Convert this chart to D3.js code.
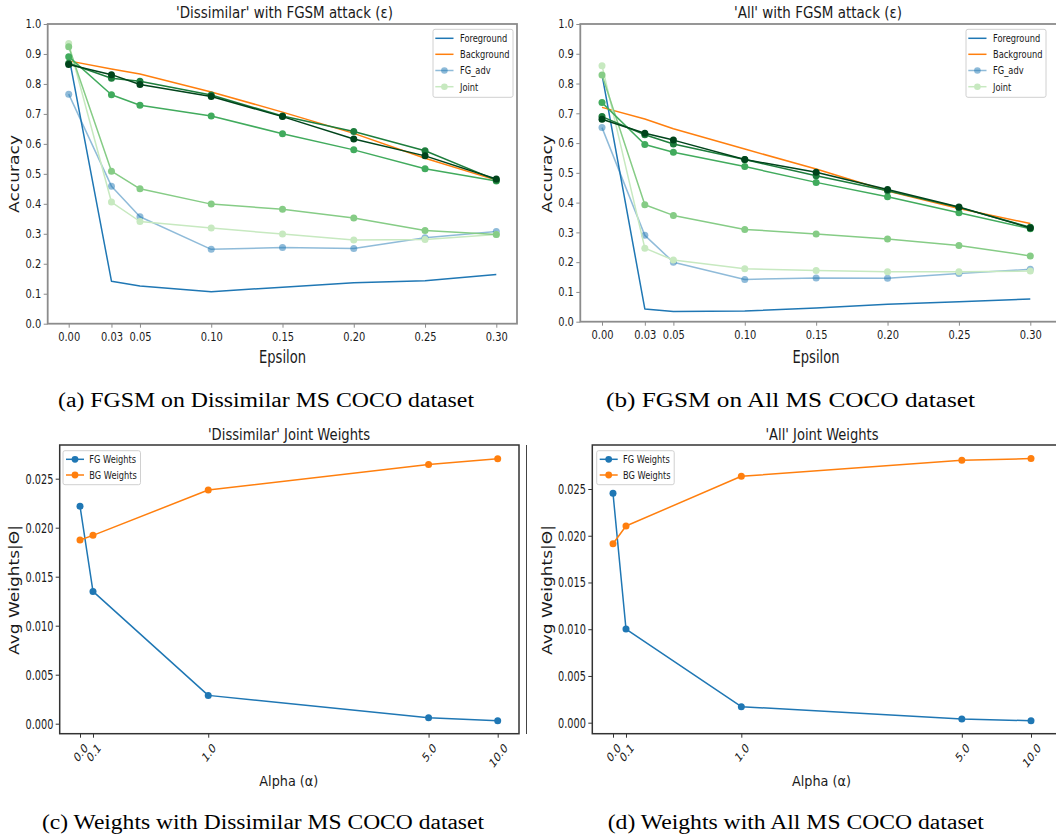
<!DOCTYPE html>
<html><head><meta charset="utf-8">
<script src="https://cdn.jsdelivr.net/npm/d3@7"></script>
<style>body{margin:0;background:#fff}svg{display:block}</style>
</head><body><svg id="c" width="1056" height="839"></svg>
<script>
// ---------- data ----------
const epsilons = [0, 0.03, 0.05, 0.10, 0.15, 0.20, 0.25, 0.30];
const epsTicks = ["0.00","0.03","0.05","0.10","0.15","0.20","0.25","0.30"];
const accTicks = [0,0.1,0.2,0.3,0.4,0.5,0.6,0.7,0.8,0.9,1.0];
const legendNames = ["Foreground","Background","FG_adv","Joint"];

// 'Dissimilar' FGSM
const dis_foreground = [0.895, 0.142, 0.126, 0.107, 0.122, 0.137, 0.143, 0.164];
const dis_background = [0.877, 0.850, 0.833, 0.773, 0.706, 0.635, 0.552, 0.479];
const dis_fgadv      = [0.766, 0.459, 0.357, 0.248, 0.254, 0.251, 0.287, 0.308];
const dis_joint      = [0.935, 0.406, 0.341, 0.319, 0.299, 0.279, 0.281, 0.298];
const dis_joint2     = [0.924, 0.509, 0.450, 0.399, 0.382, 0.353, 0.311, 0.298];
const dis_joint3     = [0.891, 0.764, 0.729, 0.693, 0.634, 0.580, 0.517, 0.476];
const dis_joint4     = [0.869, 0.819, 0.809, 0.763, 0.693, 0.641, 0.577, 0.479];
const dis_joint5     = [0.865, 0.831, 0.798, 0.758, 0.691, 0.616, 0.560, 0.483];

// 'All' FGSM
const all_foreground = [0.830, 0.043, 0.034, 0.036, 0.046, 0.059, 0.067, 0.076];
const all_background = [0.720, 0.681, 0.648, 0.580, 0.513, 0.439, 0.380, 0.330];
const all_fgadv      = [0.652, 0.290, 0.200, 0.142, 0.147, 0.146, 0.162, 0.176];
const all_joint      = [0.860, 0.247, 0.207, 0.178, 0.172, 0.168, 0.168, 0.170];
const all_joint2     = [0.829, 0.393, 0.357, 0.310, 0.295, 0.278, 0.256, 0.221];
const all_joint3     = [0.736, 0.595, 0.569, 0.521, 0.468, 0.420, 0.366, 0.312];
const all_joint4     = [0.689, 0.628, 0.597, 0.545, 0.490, 0.440, 0.384, 0.317];
const all_joint5     = [0.680, 0.633, 0.610, 0.545, 0.502, 0.444, 0.385, 0.315];

// Joint weights
const alphas = [0, 0.1, 1, 5, 10];
const alphaTicks = ["0.0","0.1","1.0","5.0","10.0"];
const weightTicks = [0, 0.005, 0.010, 0.015, 0.020, 0.025];
const weightNames = ["FG Weights","BG Weights"];
const dis_fgWeights = [0.02220, 0.01350, 0.00289, 0.00061, 0.00031];
const dis_bgWeights = [0.01874, 0.01922, 0.02384, 0.02646, 0.02704];
const all_fgWeights = [0.02454, 0.01002, 0.00171, 0.00039, 0.00021];
const all_bgWeights = [0.01915, 0.02104, 0.02636, 0.02807, 0.02825];

// ---------- drawing ----------
const svg = d3.select('#c');
const SANS = '"DejaVu Sans", sans-serif';
const SERIF = '"Liberation Serif", "Times New Roman", serif';
const BLUE = '#1f77b4', ORANGE = '#ff7f0e';
const GREENS = ['#c7e9c0', '#86cc86', '#41ab5d', '#1d7d3c', '#00441b'];

function stext(p, x, y, s, o = {}) {
  const t = p.append('text').text(s)
    .attr('font-size', o.size || 11)
    .attr('text-anchor', o.anchor || 'start')
    .attr('fill', o.fill || '#1a1a1a')
    .attr('font-family', o.family || SANS);
  if (o.baseline) t.attr('dominant-baseline', o.baseline);
  if (o.len) t.attr('textLength', o.len).attr('lengthAdjust', 'spacingAndGlyphs');
  let tr = `translate(${x},${y})`;
  if (o.sx) tr += ` scale(${o.sx},1)`;
  if (o.rot) tr += ` rotate(${o.rot})`;
  t.attr('transform', tr);
  return t;
}

function accPanel(c) {
  const g = svg.append('g');
  const x = d3.scaleLinear().domain([0, 0.3]).range(c.xr);
  const y = d3.scaleLinear().domain([0, 1]).range(c.yr);
  const sx = 0.84;

  g.append('rect').attr('x', c.fx[0]).attr('y', c.fy[0])
    .attr('width', c.fx[1] - c.fx[0]).attr('height', c.fy[1] - c.fy[0])
    .attr('fill', 'none').attr('stroke', '#8c8c8c').attr('stroke-width', 1.8);

  const gx = g.append('g').attr('transform', `translate(0,${c.fy[1]})`)
    .call(d3.axisBottom(x).tickValues(epsilons).tickFormat((d, i) => epsTicks[i]).tickSize(4).tickPadding(5));
  gx.select('.domain').remove();
  gx.selectAll('line').attr('stroke', '#8c8c8c').attr('stroke-width', 1);
  gx.selectAll('text').attr('font-size', 11.8).attr('font-family', SANS).attr('fill', '#1a1a1a')
    .attr('transform', `scale(${sx},1)`);

  const gy = g.append('g').attr('transform', `translate(${c.fx[0]},0)`)
    .call(d3.axisLeft(y).tickValues(accTicks).tickFormat(d3.format('.1f')).tickSize(4).tickPadding(2.4));
  gy.select('.domain').remove();
  gy.selectAll('line').attr('stroke', '#8c8c8c').attr('stroke-width', 1);
  gy.selectAll('text').attr('font-size', 11.8).attr('font-family', SANS).attr('fill', '#1a1a1a')
    .attr('x', -6.4 / sx).attr('transform', `scale(${sx},1)`);

  const line = d3.line().x((d, i) => x(epsilons[i])).y(d => y(d));
  c.series.forEach(s => {
    g.append('path').attr('d', line(s.vals)).attr('fill', 'none')
      .attr('stroke', s.color).attr('stroke-width', 1.5).attr('stroke-opacity', s.op || 1)
      .attr('stroke-linejoin', 'round');
    if (s.marker) {
      g.selectAll(null).data(s.vals).enter().append('circle')
        .attr('cx', (d, i) => x(epsilons[i])).attr('cy', d => y(d)).attr('r', 3.5)
        .attr('fill', s.color).attr('fill-opacity', s.op || 1);
    }
  });

  stext(g, c.title.x, 17.5, c.title.text, { size: 16, anchor: 'middle', len: c.title.len });
  stext(g, c.ylab.x, 174, 'Accuracy', { size: 17, anchor: 'middle', len: 78, baseline: 'central', sx: 0.8, rot: -90 });
  stext(g, c.xlab.x, 362.5, 'Epsilon', { size: 18, anchor: 'middle', len: 47 });

  const L = c.legend;
  g.append('rect').attr('x', L.x).attr('y', 29.3).attr('width', 80).attr('height', 68)
    .attr('rx', 2).attr('fill', '#fff').attr('fill-opacity', 0.85)
    .attr('stroke', '#d0d0d0').attr('stroke-width', 1);
  const rows = [38.3, 54.3, 70.5, 86.7];
  c.series.slice(0, 4).forEach((s, i) => {
    g.append('line').attr('x1', L.x + 2.3).attr('x2', L.x + 20.5).attr('y1', rows[i]).attr('y2', rows[i])
      .attr('stroke', s.color).attr('stroke-width', 1.5).attr('stroke-opacity', s.op || 1);
    if (s.marker) g.append('circle').attr('cx', L.x + 11.4).attr('cy', rows[i]).attr('r', 3.3)
      .attr('fill', s.color).attr('fill-opacity', s.op || 1);
    stext(g, L.x + 27, rows[i], legendNames[i], { size: 10, sx: 0.83, baseline: 'central' });
  });

  stext(svg, c.cap.x, 407, c.cap.text, { size: 20.5, anchor: 'middle', family: SERIF, fill: '#000', len: c.cap.len });
}

function weightPanel(c) {
  const g = svg.append('g');
  const w = c.xr[1] - c.xr[0];
  const x = d3.scaleLinear().domain(alphas).range([0, 0.0311, 0.307, 0.8345, 1].map(f => c.xr[0] + f * w));
  const y = d3.scaleLinear().domain([0, 0.025]).range(c.yr);
  const sx = 0.72;

  g.append('rect').attr('x', c.fx[0]).attr('y', c.fy[0])
    .attr('width', c.fx[1] - c.fx[0]).attr('height', c.fy[1] - c.fy[0])
    .attr('fill', 'none').attr('stroke', '#333').attr('stroke-width', 1.5);

  const gx = g.append('g').attr('transform', `translate(0,${c.fy[1]})`)
    .call(d3.axisBottom(x).tickValues(alphas).tickFormat('').tickSize(4));
  gx.select('.domain').remove();
  gx.selectAll('line').attr('stroke', '#333').attr('stroke-width', 1);
  alphas.forEach((a, i) => {
    const t = stext(g, 0, 0, alphaTicks[i], { size: 12.8, anchor: 'middle', baseline: 'central' });
    const L = t.node().getComputedTextLength();
    const ext = (L + 9) * 0.707;
    t.attr('transform', `translate(${x(a) + 1},${c.fy[1] + 9 + ext / 2}) scale(0.74,1) rotate(-45)`);
  });

  const gy = g.append('g').attr('transform', `translate(${c.fx[0]},0)`)
    .call(d3.axisLeft(y).tickValues(weightTicks).tickFormat(d3.format('.3f')).tickSize(4).tickPadding(2.4));
  gy.select('.domain').remove();
  gy.selectAll('line').attr('stroke', '#333').attr('stroke-width', 1);
  gy.selectAll('text').attr('font-size', 13.5).attr('font-family', SANS).attr('fill', '#1a1a1a')
    .attr('x', -6.4 / sx).attr('transform', `scale(${sx},1)`);

  const line = d3.line().x((d, i) => x(alphas[i])).y(d => y(d));
  c.series.forEach(s => {
    g.append('path').attr('d', line(s.vals)).attr('fill', 'none')
      .attr('stroke', s.color).attr('stroke-width', 1.5).attr('stroke-linejoin', 'round');
    g.selectAll(null).data(s.vals).enter().append('circle')
      .attr('cx', (d, i) => x(alphas[i])).attr('cy', d => y(d)).attr('r', 3.5).attr('fill', s.color);
  });

  stext(g, c.title.x, 440, c.title.text, { size: 15, anchor: 'middle', len: c.title.len });
  stext(g, c.ylab.x, 590, 'Avg Weights|Θ|', { size: 17, anchor: 'middle', len: 130, baseline: 'central', sx: 0.8, rot: -90 });
  stext(g, c.xlab.x, 786, 'Alpha (α)', { size: 14.5, anchor: 'middle', len: 59 });

  const Lx = c.legend;
  g.append('rect').attr('x', Lx).attr('y', 450.7).attr('width', 77.5).attr('height', 34)
    .attr('rx', 2).attr('fill', '#fff').attr('fill-opacity', 0.85)
    .attr('stroke', '#d0d0d0').attr('stroke-width', 1);
  const rows = [459.3, 475];
  c.series.forEach((s, i) => {
    g.append('line').attr('x1', Lx + 3).attr('x2', Lx + 21).attr('y1', rows[i]).attr('y2', rows[i])
      .attr('stroke', s.color).attr('stroke-width', 1.5);
    g.append('circle').attr('cx', Lx + 12).attr('cy', rows[i]).attr('r', 3.4).attr('fill', s.color);
    stext(g, Lx + 26.3, rows[i], weightNames[i], { size: 11, sx: 0.75, baseline: 'central' });
  });

  stext(svg, c.cap.x, 829, c.cap.text, { size: 20.5, anchor: 'middle', family: SERIF, fill: '#000', len: c.cap.len });
}

function accSeries(fg, bg, adv, j1, j2, j3, j4, j5) {
  return [
    { vals: fg, color: BLUE },
    { vals: bg, color: ORANGE },
    { vals: adv, color: BLUE, op: 0.5, marker: true },
    { vals: j1, color: GREENS[0], marker: true },
    { vals: j2, color: GREENS[1], marker: true },
    { vals: j3, color: GREENS[2], marker: true },
    { vals: j4, color: GREENS[3], marker: true },
    { vals: j5, color: GREENS[4], marker: true }
  ];
}

accPanel({
  xr: [68.7, 496.3], yr: [323.7, 24], fx: [47.7, 517], fy: [24, 323.7],
  series: accSeries(dis_foreground, dis_background, dis_fgadv, dis_joint, dis_joint2, dis_joint3, dis_joint4, dis_joint5),
  title: { x: 284.5, text: "'Dissimilar' with FGSM attack (ε)", len: 217 },
  ylab: { x: 15 }, xlab: { x: 282.5 }, legend: { x: 433 },
  cap: { x: 266, text: '(a) FGSM on Dissimilar MS COCO dataset', len: 416 }
});
accPanel({
  xr: [602, 1030.3], yr: [321.7, 24], fx: [580.3, 1062], fy: [24, 321.7],
  series: accSeries(all_foreground, all_background, all_fgadv, all_joint, all_joint2, all_joint3, all_joint4, all_joint5),
  title: { x: 818, text: "'All' with FGSM attack (ε)", len: 168 },
  ylab: { x: 548 }, xlab: { x: 816 }, legend: { x: 966 },
  cap: { x: 790.5, text: '(b) FGSM on All MS COCO dataset', len: 369 }
});
weightPanel({
  xr: [80, 497.7], yr: [723.7, 478.7], fx: [59.7, 519], fy: [445, 733.7],
  series: [{ vals: dis_fgWeights, color: BLUE }, { vals: dis_bgWeights, color: ORANGE }],
  title: { x: 289, text: "'Dissimilar' Joint Weights", len: 162 },
  ylab: { x: 15 }, xlab: { x: 288.8 }, legend: 63,
  cap: { x: 263, text: '(c) Weights with Dissimilar MS COCO dataset', len: 442 }
});
weightPanel({
  xr: [613, 1031], yr: [722.7, 489], fx: [592.3, 1062], fy: [445, 733.7],
  series: [{ vals: all_fgWeights, color: BLUE }, { vals: all_bgWeights, color: ORANGE }],
  title: { x: 822, text: "'All' Joint Weights", len: 113 },
  ylab: { x: 547.7 }, xlab: { x: 821.5 }, legend: 596.7,
  cap: { x: 795.7, text: '(d) Weights with All MS COCO dataset', len: 376 }
});
svg.append('line').attr('x1', 526.5).attr('x2', 526.5).attr('y1', 445).attr('y2', 734)
  .attr('stroke', '#444').attr('stroke-width', 1);
</script></body></html>
